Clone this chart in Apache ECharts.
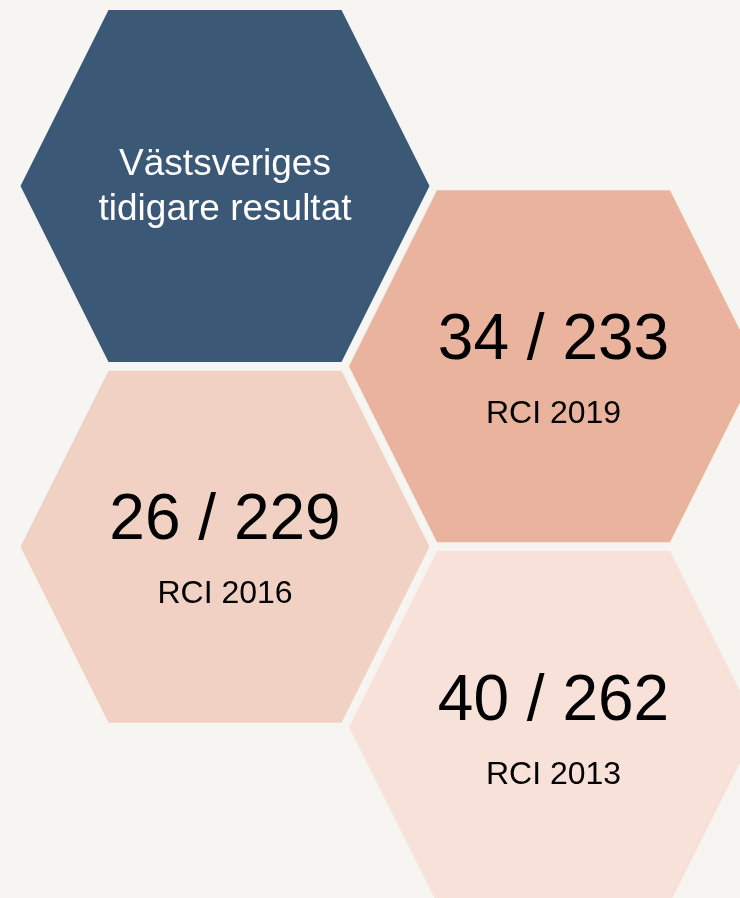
<!DOCTYPE html>
<html>
<head>
<meta charset="utf-8">
<title>Västsveriges tidigare resultat</title>
<script src="https://cdn.jsdelivr.net/npm/echarts@6/dist/echarts.min.js"></script>
<style>
  html, body { margin: 0; padding: 0; background: #f6f5f1; }
  #main { width: 740px; height: 898px; }
</style>
</head>
<body>
<div id="main"></div>
<script>
// rubrik i första cellen
const title = "Västsveriges\ntidigare resultat";
// placering i RCI: rank / antal regioner
const editions = ["RCI 2019", "RCI 2016", "RCI 2013"];
const ranks = [34, 26, 40];
const totals = [233, 229, 262];

// färger per cell (rubrik först)
const fills = ["#3b5876", "#e9b39e", "#f1d1c4", "#f8e1d9"];
const font = '"Liberation Sans", Arial, sans-serif';

// bikakan: kolumnen växlar 0/1 och raden ökar med ett för varje cell
const cells = [[0, 0, -1]];
editions.forEach(function (e, i) {
  cells.push([(i + 1) % 2, i + 1, i]);
});

function renderHex(params, api) {
  const c = api.coord([api.value(0), api.value(1)]);
  const k = api.value(2);
  const hw = 204.5, hh = 176, he = 116.5; // halva bredden, halva höjden, halva kantlängden
  const points = [
    [c[0] - he, c[1] - hh],
    [c[0] + he, c[1] - hh],
    [c[0] + hw, c[1]],
    [c[0] + he, c[1] + hh],
    [c[0] - he, c[1] + hh],
    [c[0] - hw, c[1]]
  ];
  const children = [{
    type: "polygon",
    shape: { points: points },
    style: { fill: fills[params.dataIndex] }
  }];
  if (k < 0) {
    children.push({
      type: "text",
      x: c[0],
      y: c[1] + 1,
      style: {
        text: title,
        fill: "#ffffff",
        font: "37px " + font,
        lineHeight: 45,
        align: "center",
        verticalAlign: "middle",
        textAlign: "center",
        textVerticalAlign: "middle"
      }
    });
  } else {
    children.push({
      type: "text",
      x: c[0],
      y: c[1] - 25,
      style: {
        text: ranks[k] + " / " + totals[k],
        fill: "#000000",
        font: "64px " + font,
        align: "center",
        verticalAlign: "middle",
        textAlign: "center",
        textVerticalAlign: "middle"
      }
    });
    children.push({
      type: "text",
      x: c[0],
      y: c[1] + 48,
      style: {
        text: editions[k],
        fill: "#000000",
        font: "32px " + font,
        align: "center",
        verticalAlign: "middle",
        textAlign: "center",
        textVerticalAlign: "middle"
      }
    });
  }
  return { type: "group", children: children };
}

let chart = echarts.init(document.getElementById("main"));
chart.setOption({
  backgroundColor: "#f6f5f1",
  animation: false,
  grid: { left: 225, right: 186.5, top: 186, bottom: 171 },
  xAxis: { type: "value", min: 0, max: 1, show: false },
  yAxis: { type: "value", min: 0, max: 3, inverse: true, show: false },
  series: [
    {
      type: "custom",
      renderItem: renderHex,
      clip: false,
      silent: true,
      data: cells
    }
  ]
});
</script>
</body>
</html>
